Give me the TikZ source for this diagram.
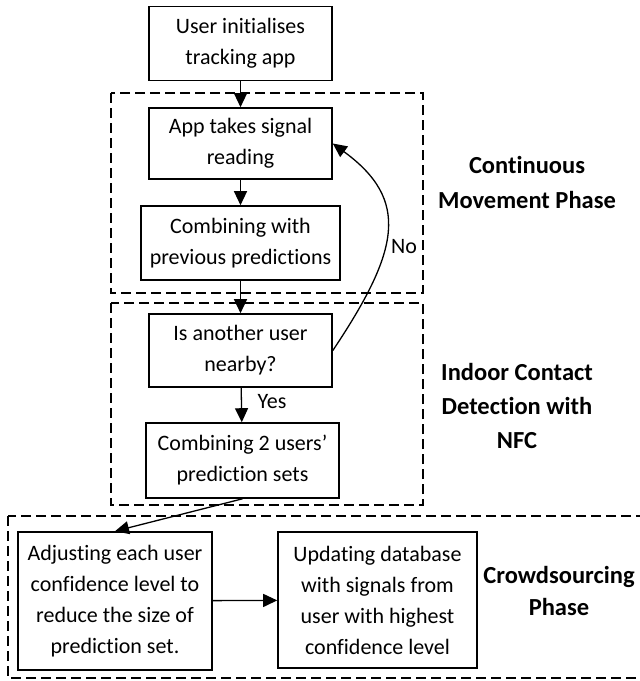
\documentclass[tikz,border=0pt]{standalone}
\usepackage{fontspec}
\setmainfont{Carlito}[Ligatures=NoCommon]
\usetikzlibrary{arrows.meta}
\begin{document}
\begin{tikzpicture}[x=1pt,y=-1pt,
  stepbox/.style={draw, line width=1.6pt, align=center, inner sep=0pt,
    font=\fontsize{22}{31}\selectfont},
  phasebox/.style={draw, line width=1.3pt, dash pattern=on 10pt off 5pt},
  phaselabel/.style={align=center, anchor=base, font=\fontsize{24.5}{35}\selectfont\bfseries},
  edgelabel/.style={anchor=base, font=\fontsize{22}{31}\selectfont},
  flow/.style={line width=1.3pt, -{Triangle[length=14pt,width=13pt]}}]
\clip (0,0) rectangle (640,681);

% phase frames
\draw[phasebox] (111,93) rectangle (423,293);
\draw[phasebox] (111,303) rectangle (423,505);
\draw[phasebox] (8,516) rectangle (660,678);

% process steps
\node[stepbox, minimum width=183pt, minimum height=74pt] (init) at (240.5,43.5) {User initialises\\tracking app};
\node[stepbox, minimum width=183pt, minimum height=71pt] (read) at (240.5,143.5) {App takes signal\\reading};
\node[stepbox, minimum width=199pt, minimum height=74pt] (comb) at (240.5,243) {Combining with\\previous predictions};
\node[stepbox, minimum width=183pt, minimum height=73pt] (near) at (240.5,350.5) {Is another user\\nearby?};
\node[stepbox, minimum width=193pt, minimum height=75pt] (pair) at (242.5,460.5) {Combining 2 users’\\prediction sets};
\node[stepbox, minimum width=194pt, minimum height=138pt] (adj) at (115,601) {Adjusting each user\\confidence level to\\reduce the size of\\prediction set.};
\node[stepbox, minimum width=199pt, minimum height=136pt] (upd) at (377.5,600) {Updating database\\with signals from\\user with highest\\confidence level};

% phase titles (anchored on the baseline of their last line)
\node[phaselabel] (t1) at (527,208) {Continuous\\Movement Phase};
\node[phaselabel, font=\fontsize{24.5}{34}\selectfont\bfseries] (t2) at (517,448) {Indoor Contact\\Detection with\\NFC};
\node[phaselabel, font=\fontsize{24.5}{32}\selectfont\bfseries] (t3) at (559,615) {Crowdsourcing\\Phase};

% connectors
\draw[flow] (init) -- (read);
\draw[flow] (read) -- (comb);
\draw[flow] (comb) -- (near);
\draw[flow] (near) -- (pair);
\draw[flow] (pair.south) -- (adj.north);
\draw[flow] (adj) -- (upd);
\draw[flow] (near.east) .. controls (400,250) and (410,200) .. (read.east);

% branch labels
\node[edgelabel] (yes) at (272,408) {Yes};
\node[edgelabel] (no) at (404,253) {No};
\end{tikzpicture}
\end{document}
